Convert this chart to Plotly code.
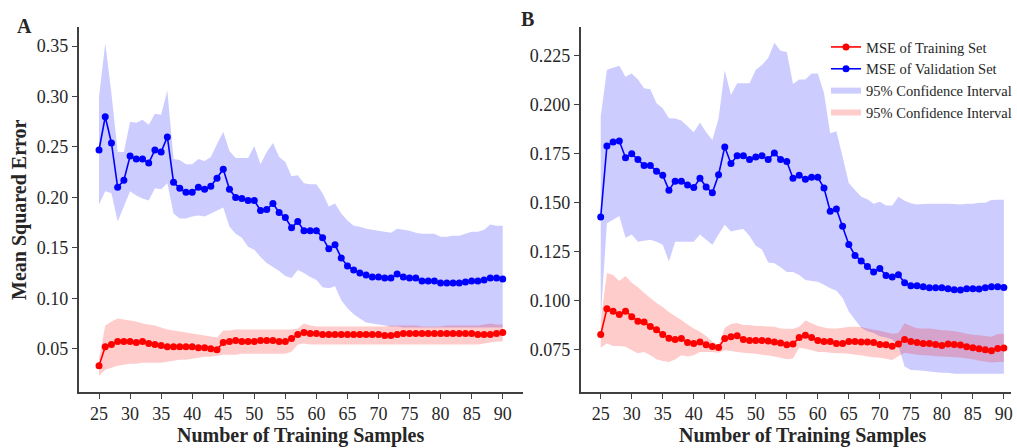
import plotly.graph_objects as go

samples = list(range(25, 91))

# ---------- Panel A ----------
a_val = [0.247, 0.280, 0.254, 0.210, 0.217, 0.241, 0.238, 0.238, 0.234, 0.247,
         0.245, 0.260, 0.215, 0.209, 0.205, 0.205, 0.210, 0.208, 0.211, 0.219,
         0.228, 0.208, 0.200, 0.199, 0.197, 0.197, 0.187, 0.188, 0.194, 0.185,
         0.180, 0.170, 0.176, 0.167, 0.167, 0.167, 0.160, 0.149, 0.153, 0.140,
         0.132, 0.128, 0.125, 0.123, 0.121, 0.121, 0.120, 0.120, 0.124, 0.121,
         0.120, 0.120, 0.117, 0.117, 0.117, 0.115, 0.115, 0.115, 0.115, 0.116,
         0.117, 0.117, 0.118, 0.120, 0.120, 0.119]
a_val_hi = [0.300, 0.353, 0.303, 0.245, 0.245, 0.275, 0.274, 0.277, 0.272, 0.283,
            0.282, 0.306, 0.238, 0.237, 0.233, 0.233, 0.238, 0.236, 0.240, 0.253,
            0.265, 0.246, 0.239, 0.239, 0.239, 0.251, 0.233, 0.245, 0.254, 0.240,
            0.235, 0.221, 0.222, 0.214, 0.213, 0.213, 0.204, 0.191, 0.194, 0.184,
            0.177, 0.172, 0.171, 0.169, 0.168, 0.167, 0.166, 0.165, 0.169, 0.168,
            0.167, 0.165, 0.164, 0.164, 0.164, 0.161, 0.161, 0.162, 0.162, 0.164,
            0.166, 0.166, 0.168, 0.173, 0.172, 0.172]
a_val_lo = [0.193, 0.206, 0.204, 0.176, 0.191, 0.206, 0.202, 0.199, 0.197, 0.209,
            0.208, 0.214, 0.184, 0.179, 0.179, 0.181, 0.182, 0.181, 0.184, 0.187,
            0.190, 0.171, 0.164, 0.160, 0.151, 0.148, 0.141, 0.135, 0.131, 0.127,
            0.122, 0.120, 0.128, 0.125, 0.121, 0.118, 0.111, 0.110, 0.112, 0.098,
            0.090, 0.084, 0.080, 0.076, 0.075, 0.074, 0.073, 0.072, 0.072, 0.071,
            0.071, 0.071, 0.071, 0.071, 0.071, 0.071, 0.071, 0.071, 0.071, 0.071,
            0.071, 0.071, 0.071, 0.071, 0.071, 0.071]
a_train = [0.033, 0.052, 0.054, 0.057, 0.057, 0.057, 0.056, 0.057, 0.055, 0.054,
           0.053, 0.052, 0.052, 0.052, 0.052, 0.052, 0.051, 0.051, 0.050, 0.049,
           0.056, 0.057, 0.058, 0.057, 0.057, 0.057, 0.058, 0.058, 0.058, 0.057,
           0.057, 0.060, 0.064, 0.066, 0.065, 0.065, 0.064, 0.064, 0.064, 0.064,
           0.064, 0.064, 0.064, 0.064, 0.064, 0.064, 0.063, 0.063, 0.064, 0.065,
           0.065, 0.065, 0.065, 0.065, 0.065, 0.065, 0.065, 0.065, 0.065, 0.065,
           0.065, 0.064, 0.064, 0.064, 0.065, 0.066]
a_train_hi = [0.040, 0.073, 0.077, 0.080, 0.079, 0.078, 0.077, 0.075, 0.074, 0.073,
              0.071, 0.069, 0.068, 0.067, 0.066, 0.065, 0.064, 0.063, 0.062, 0.061,
              0.068, 0.068, 0.069, 0.069, 0.069, 0.069, 0.069, 0.069, 0.069, 0.069,
              0.069, 0.069, 0.070, 0.075, 0.073, 0.072, 0.072, 0.072, 0.072, 0.072,
              0.072, 0.072, 0.072, 0.072, 0.072, 0.072, 0.072, 0.073, 0.073, 0.073,
              0.073, 0.073, 0.072, 0.072, 0.072, 0.072, 0.073, 0.073, 0.073, 0.073,
              0.073, 0.073, 0.074, 0.075, 0.074, 0.074]
a_train_lo = [0.023, 0.029, 0.031, 0.033, 0.034, 0.035, 0.035, 0.036, 0.036, 0.036,
              0.036, 0.037, 0.038, 0.039, 0.039, 0.040, 0.041, 0.042, 0.042, 0.043,
              0.044, 0.044, 0.044, 0.045, 0.045, 0.045, 0.045, 0.045, 0.045, 0.045,
              0.045, 0.047, 0.054, 0.055, 0.054, 0.054, 0.054, 0.054, 0.054, 0.054,
              0.054, 0.054, 0.054, 0.054, 0.054, 0.054, 0.054, 0.054, 0.054, 0.054,
              0.054, 0.054, 0.054, 0.054, 0.054, 0.054, 0.054, 0.054, 0.054, 0.054,
              0.054, 0.054, 0.055, 0.056, 0.057, 0.057]

# ---------- Panel B ----------
b_val = [0.1427, 0.179, 0.181, 0.1815, 0.173, 0.175, 0.172, 0.169, 0.169, 0.166,
         0.164, 0.1564, 0.161, 0.161, 0.159, 0.1577, 0.1625, 0.158, 0.155, 0.1643,
         0.1785, 0.170, 0.174, 0.174, 0.172, 0.1734, 0.174, 0.172, 0.1754, 0.172,
         0.171, 0.1625, 0.164, 0.162, 0.163, 0.163, 0.1575, 0.1456, 0.1467, 0.138,
         0.1286, 0.123, 0.1202, 0.1173, 0.1146, 0.1163, 0.1127, 0.112, 0.1132, 0.109,
         0.1075, 0.1075, 0.107, 0.1065, 0.1065, 0.1065, 0.106, 0.1055, 0.1053, 0.106,
         0.106, 0.1058, 0.1065, 0.107, 0.107, 0.1066]
b_val_hi = [0.194, 0.218, 0.219, 0.220, 0.2144, 0.216, 0.213, 0.2085, 0.208, 0.2008,
            0.1983, 0.1932, 0.193, 0.192, 0.189, 0.186, 0.191, 0.186, 0.182, 0.193,
            0.2175, 0.205, 0.211, 0.211, 0.211, 0.218, 0.2204, 0.224, 0.2318, 0.2277,
            0.227, 0.2107, 0.213, 0.213, 0.216, 0.216, 0.206, 0.1855, 0.1865, 0.1735,
            0.160, 0.1565, 0.153, 0.1517, 0.1494, 0.1505, 0.1485, 0.1485, 0.153, 0.151,
            0.1497, 0.149, 0.1493, 0.1495, 0.1495, 0.1495, 0.1495, 0.1493, 0.149, 0.1495,
            0.1495, 0.150, 0.150, 0.1513, 0.1515, 0.1515]
b_val_lo = [0.091, 0.1395, 0.1412, 0.1432, 0.132, 0.1337, 0.130, 0.1305, 0.131, 0.130,
            0.1285, 0.1199, 0.130, 0.130, 0.130, 0.130, 0.1337, 0.131, 0.1285, 0.1337,
            0.1387, 0.1353, 0.136, 0.1365, 0.133, 0.128, 0.126, 0.1194, 0.119, 0.117,
            0.1145, 0.1145, 0.113, 0.1104, 0.110, 0.1096, 0.108, 0.1063, 0.105, 0.1013,
            0.0943, 0.0901, 0.086, 0.0843, 0.0834, 0.0817, 0.081, 0.080, 0.077, 0.0662,
            0.0645, 0.0643, 0.064, 0.0637, 0.0633, 0.063, 0.063, 0.0625, 0.0625, 0.0625,
            0.0625, 0.0625, 0.0625, 0.0625, 0.0625, 0.0625]
b_train = [0.0826, 0.0957, 0.0945, 0.0928, 0.0945, 0.0917, 0.0894, 0.089, 0.0867, 0.085,
           0.0826, 0.0807, 0.080, 0.0805, 0.0785, 0.078, 0.0787, 0.0773, 0.0765, 0.076,
           0.0806, 0.0815, 0.082, 0.080, 0.0795, 0.0795, 0.0795, 0.0793, 0.0787, 0.0783,
           0.0773, 0.0778, 0.081, 0.0822, 0.081, 0.0795, 0.079, 0.079, 0.078, 0.078,
           0.079, 0.079, 0.0787, 0.0788, 0.0785, 0.0775, 0.0773, 0.0766, 0.0778, 0.080,
           0.079, 0.0785, 0.078, 0.078, 0.0775, 0.077, 0.0778, 0.0775, 0.0772, 0.0763,
           0.0758, 0.0753, 0.0748, 0.0743, 0.0755, 0.0757]
b_train_hi = [0.090, 0.114, 0.113, 0.110, 0.1125, 0.109, 0.1068, 0.104, 0.1012, 0.0987,
              0.0966, 0.094, 0.092, 0.090, 0.0877, 0.0857, 0.084, 0.0818, 0.079, 0.077,
              0.086, 0.088, 0.0885, 0.0875, 0.0875, 0.087, 0.087, 0.0867, 0.0866, 0.0857,
              0.0855, 0.0855, 0.0866, 0.0897, 0.0883, 0.087, 0.0862, 0.0857, 0.0857, 0.086,
              0.0866, 0.0866, 0.0864, 0.0857, 0.085, 0.0845, 0.0837, 0.083, 0.0833, 0.0883,
              0.087, 0.0858, 0.0857, 0.0857, 0.0853, 0.0848, 0.0846, 0.0843, 0.0838, 0.083,
              0.0825, 0.0822, 0.0818, 0.0815, 0.0828, 0.083]
b_train_lo = [0.0758, 0.078, 0.0767, 0.0767, 0.0763, 0.0745, 0.073, 0.0737, 0.072, 0.070,
              0.0691, 0.0685, 0.0698, 0.072, 0.0713, 0.072, 0.0737, 0.0737, 0.0737, 0.0733,
              0.0745, 0.0742, 0.0737, 0.0733, 0.073, 0.0727, 0.0723, 0.0718, 0.0713, 0.0707,
              0.070, 0.0703, 0.0758, 0.0753, 0.0745, 0.0737, 0.0737, 0.0733, 0.073, 0.073,
              0.0727, 0.0723, 0.072, 0.0713, 0.071, 0.0707, 0.0702, 0.0695, 0.0715, 0.0733,
              0.0728, 0.0723, 0.072, 0.0718, 0.0715, 0.0713, 0.0712, 0.071, 0.0708, 0.0703,
              0.070, 0.0692, 0.0688, 0.0683, 0.0685, 0.0685]

x_ticks = list(range(25, 91, 5))
a_yticks = [0.05, 0.10, 0.15, 0.20, 0.25, 0.30, 0.35]
b_yticks = [0.075, 0.100, 0.125, 0.150, 0.175, 0.200, 0.225]

FONT = "Liberation Serif, Times New Roman, serif"
TXT = "#262626"
AX = "#404040"
RED = "#ff0000"
BLUE = "#0000ff"
RED_FILL = "rgba(255,0,0,0.2)"
BLUE_FILL = "rgba(0,0,255,0.2)"

W, H = 1017, 448

fig = go.Figure()


def band(lo, hi, color, name, xa, ya, show, rank):
    return go.Scatter(
        x=samples + samples[::-1], y=hi + lo[::-1], fill="toself",
        fillcolor=color, mode="none", name=name, showlegend=show,
        legendrank=rank, xaxis=xa, yaxis=ya, hoverinfo="skip")


def line(vals, color, name, xa, ya, show, rank):
    return go.Scatter(
        x=samples, y=vals, mode="lines+markers", name=name,
        line=dict(color=color, width=1.6), marker=dict(color=color, size=7),
        showlegend=show, legendrank=rank, xaxis=xa, yaxis=ya)


fig.add_trace(band(a_val_lo, a_val_hi, BLUE_FILL, "95% Confidence Interval", "x", "y", False, 3))
fig.add_trace(band(a_train_lo, a_train_hi, RED_FILL, "95% Confidence Interval", "x", "y", False, 4))
fig.add_trace(line(a_train, RED, "MSE of Training Set", "x", "y", False, 1))
fig.add_trace(line(a_val, BLUE, "MSE of Validation Set", "x", "y", False, 2))

fig.add_trace(band(b_val_lo, b_val_hi, BLUE_FILL, "95% Confidence Interval", "x2", "y2", True, 3))
fig.add_trace(band(b_train_lo, b_train_hi, RED_FILL, "95% Confidence Interval", "x2", "y2", True, 4))
fig.add_trace(line(b_train, RED, "MSE of Training Set", "x2", "y2", True, 1))
fig.add_trace(line(b_val, BLUE, "MSE of Validation Set", "x2", "y2", True, 2))

ydom = [(H - 392) / H, (H - 27) / H]

axis_common = dict(showline=True, linecolor=AX, linewidth=1.5, ticks="outside",
                   ticklen=5, tickwidth=1.2, tickcolor=AX, showgrid=False,
                   zeroline=False, ticklabeloverflow="allow",
                   tickfont=dict(family=FONT, size=18, color=TXT))

fig.update_layout(
    width=W, height=H, margin=dict(l=0, r=0, t=0, b=0),
    paper_bgcolor="white", plot_bgcolor="white",
    font=dict(family=FONT, color=TXT),
    xaxis=dict(domain=[79 / W, 526 / W], range=[21.7, 93.25], tickvals=x_ticks,
               anchor="y", **axis_common),
    yaxis=dict(domain=ydom, range=[0.007, 0.369], tickvals=a_yticks,
               tickformat=".2f", anchor="x", **axis_common),
    xaxis2=dict(domain=[584 / W, 1.0], range=[21.75, 91.15], tickvals=x_ticks,
                anchor="y2", **axis_common),
    yaxis2=dict(domain=ydom, range=[0.0532, 0.2398], tickvals=b_yticks,
                tickformat=".3f", anchor="x2", **axis_common),
    legend=dict(x=831 / W, y=1 - 31 / H, xanchor="left", yanchor="top",
                bgcolor="rgba(0,0,0,0)", font=dict(family=FONT, size=14.5, color=TXT),
                tracegroupgap=0),
    showlegend=True,
)


def ann(text, px, py, size=20, angle=0):
    return dict(text=text, x=px / W, y=1 - py / H, xref="paper", yref="paper",
                xanchor="center", yanchor="middle", showarrow=False,
                textangle=angle, font=dict(family=FONT, size=size, color=TXT))


annotations = [
    ann("<b>A</b>", 25, 26),
    ann("<b>B</b>", 531, 19),
    ann("<b>Mean Squared Error</b>", 19, 210, angle=-90),
    ann("<b>Number of Training Samples</b>", 302, 435),
    ann("<b>Number of Training Samples</b>", 807, 435),
]
fig.update_layout(annotations=annotations)

fig.write_html("out.html")
